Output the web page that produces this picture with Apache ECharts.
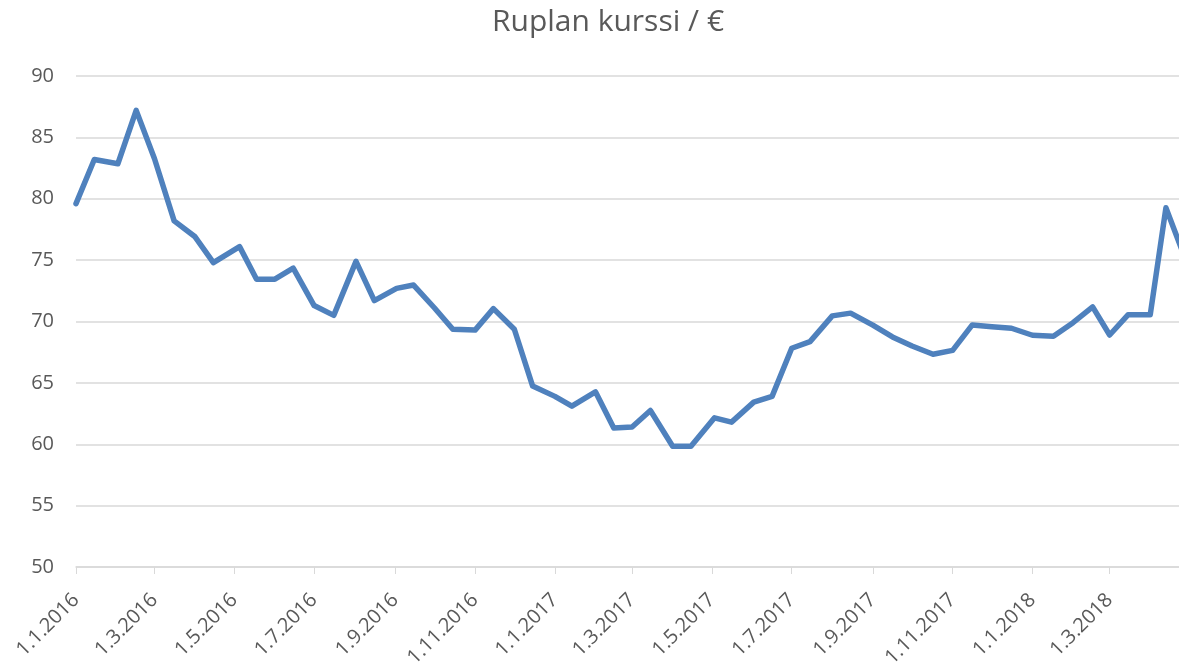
<!DOCTYPE html>
<html>
<head>
<meta charset="utf-8">
<title>Ruplan kurssi</title>
<script src="https://cdn.jsdelivr.net/npm/echarts@6/dist/echarts.min.js"></script>
<style>
  html, body { margin: 0; padding: 0; background: #fff; }
  #chart { width: 1179px; height: 664px; }
</style>
</head>
<body>
<div id="chart"></div>
<script>
// havaintopäivät ja kurssit (luettu kuvasta)
const dates = [
  '2016-01-01', '2016-01-15', '2016-02-02', '2016-02-16', '2016-03-01', '2016-03-16',
  '2016-04-01', '2016-04-15', '2016-05-05', '2016-05-18', '2016-06-01', '2016-06-15',
  '2016-07-01', '2016-07-16', '2016-08-02', '2016-08-16', '2016-09-02', '2016-09-15',
  '2016-10-01', '2016-10-15', '2016-11-01', '2016-11-15', '2016-12-01', '2016-12-15',
  '2017-01-01', '2017-01-14', '2017-02-01', '2017-02-15', '2017-03-01', '2017-03-15',
  '2017-04-01', '2017-04-15', '2017-05-03', '2017-05-16', '2017-06-02', '2017-06-16',
  '2017-07-01', '2017-07-15', '2017-08-01', '2017-08-15', '2017-09-01', '2017-09-16',
  '2017-10-01', '2017-10-17', '2017-11-01', '2017-11-16', '2017-12-01', '2017-12-16',
  '2018-01-01', '2018-01-17', '2018-02-01', '2018-02-16', '2018-03-01', '2018-03-15',
  '2018-04-01', '2018-04-13', '2018-05-01'
];
const rates = [
  79.6, 83.2, 82.85, 87.2, 83.26, 78.2,
  76.9, 74.8, 76.1, 73.45, 73.45, 74.35,
  71.3, 70.5, 74.9, 71.7, 72.7, 72.97,
  71.1, 69.37, 69.3, 71.05, 69.37, 64.74,
  63.9, 63.1, 64.27, 61.33, 61.4, 62.75,
  59.84, 59.84, 62.15, 61.8, 63.43, 63.9,
  67.82, 68.36, 70.46, 70.68, 69.7, 68.74,
  68.0, 67.33, 67.65, 69.72, 69.58, 69.45,
  68.88, 68.8, 69.9, 71.19, 68.9, 70.54,
  70.54, 79.26, 74.2
];
const yTicks = [50, 55, 60, 65, 70, 75, 80, 85, 90];

const DAY = 24 * 3600 * 1000;
const seriesData = dates.map((d, i) => [new Date(d).getTime(), rates[i]]);

const chart = echarts.init(document.getElementById('chart'));

const option = {
  useUTC: true,
  animation: false,
  textStyle: { fontFamily: '"Open Sans", sans-serif' },
  title: {
    text: 'Ruplan kurssi / €',
    left: 487,
    top: 2,
    textStyle: { fontSize: 30, fontWeight: 'normal', color: '#595959' }
  },
  grid: { left: 76, right: 0, top: 76, bottom: 97, containLabel: false, outerBoundsMode: 'none' },
  xAxis: {
    type: 'time',
    min: new Date('2016-01-01').getTime(),
    max: new Date('2018-04-23').getTime(),
    splitNumber: 12,
    minInterval: 70 * DAY,
    maxInterval: 70 * DAY,
    axisLine: { lineStyle: { color: '#d9d9d9', width: 1.5 } },
    axisTick: { show: true, length: 7, lineStyle: { color: '#d9d9d9' } },
    splitLine: { show: false },
    axisLabel: {
      rotate: 45,
      margin: 30,
      fontSize: 20,
      color: '#595959',
      hideOverlap: false,
      formatter: function (v) {
        const d = new Date(v);
        return d.getUTCDate() + '.' + (d.getUTCMonth() + 1) + '.' + d.getUTCFullYear();
      }
    }
  },
  yAxis: {
    type: 'value',
    min: yTicks[0],
    max: yTicks[yTicks.length - 1],
    interval: 5,
    axisLine: { show: false },
    axisTick: { show: false },
    splitLine: { lineStyle: { color: '#d9d9d9', width: 1.5 } },
    axisLabel: { fontSize: 20, color: '#595959', margin: 22 }
  },
  series: [{
    name: 'Ruplan kurssi',
    type: 'line',
    data: seriesData,
    showSymbol: false,
    clip: true,
    lineStyle: { color: '#4F81BD', width: 5.5, join: 'round', cap: 'round' },
    itemStyle: { color: '#4F81BD' }
  }]
};

chart.setOption(option);
window.addEventListener('resize', () => chart.resize());
</script>
</body>
</html>
